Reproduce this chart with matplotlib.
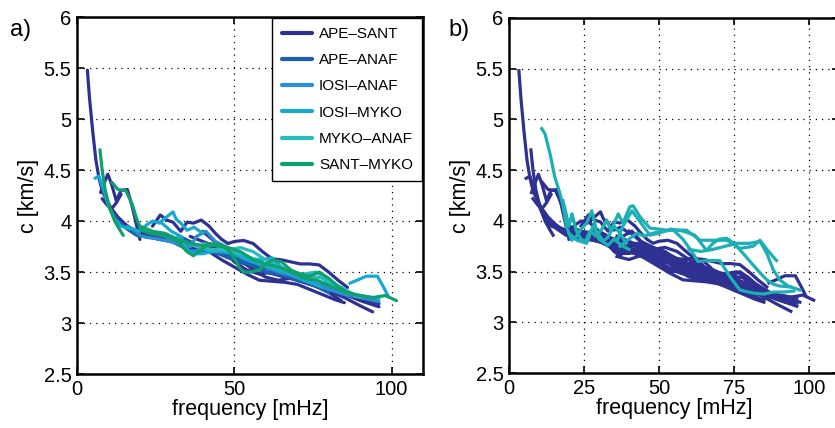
import matplotlib
matplotlib.use("Agg")
import matplotlib.pyplot as plt

plt.rcParams['font.family'] = ['Liberation Sans', 'DejaVu Sans']

# pair names and colours of panel a
pairs = ['APE\u2013SANT', 'APE\u2013ANAF', 'IOSI\u2013ANAF', 'IOSI\u2013MYKO', 'MYKO\u2013ANAF', 'SANT\u2013MYKO']
pair_colors = ['#2e3192', '#1c5fae', '#2a8fd0', '#17a9d1', '#28bbbd', '#0fa070']

# dispersion curves of panel a: (pair index, frequency [mHz], c [km/s])
curves_a = [
    (0, [3.3, 4, 5, 6, 7, 8, 9.5, 11, 13, 15, 17, 19, 21, 24, 27, 30, 33, 36, 40, 44, 48, 52, 56, 60, 64, 68, 72, 76, 80, 84],
        [5.48, 5.2, 4.88, 4.6, 4.42, 4.3, 4.2, 4.12, 4.04, 3.98, 3.93, 3.9, 3.87, 3.86, 3.84, 3.82, 3.8, 3.77, 3.76, 3.75, 3.72, 3.66, 3.6, 3.55, 3.5, 3.47, 3.42, 3.36, 3.3, 3.22]),
    (0, [7.5, 9, 9.8, 11, 12.5, 14, 16, 17.5, 19, 20],
        [4.28, 4.4, 4.46, 4.36, 4.2, 4.3, 4.31, 4.15, 3.95, 3.82]),
    (0, [8, 9.5, 11, 12.5, 14],
        [4.22, 4.16, 4.12, 4.18, 4.26]),
    (0, [24, 26.5, 28.5, 30.5, 33, 35, 37, 39.5, 42, 44, 46, 48, 50, 53, 56, 59, 62, 65, 68, 71, 74, 77, 80, 83, 86],
        [3.95, 4.06, 4.01, 3.99, 3.9, 3.99, 3.98, 4.01, 3.95, 3.88, 3.82, 3.78, 3.8, 3.81, 3.78, 3.7, 3.63, 3.62, 3.6, 3.58, 3.58, 3.57, 3.5, 3.42, 3.35]),
    (0, [30, 34, 38, 42, 46, 50, 54, 58, 62, 66, 70, 74, 78, 82, 85],
        [3.82, 3.75, 3.72, 3.7, 3.62, 3.55, 3.48, 3.42, 3.41, 3.4, 3.38, 3.33, 3.28, 3.23, 3.2]),
    (0, [20, 25, 30, 35, 40, 45, 50, 55, 60, 65, 70, 75, 80, 85, 90, 94],
        [3.9, 3.86, 3.8, 3.78, 3.72, 3.68, 3.62, 3.56, 3.5, 3.46, 3.42, 3.38, 3.32, 3.25, 3.17, 3.11]),
    (0, [36, 40, 44, 48, 52, 56, 60, 64, 68, 72, 76, 80, 85, 90, 96],
        [3.85, 3.8, 3.75, 3.7, 3.62, 3.52, 3.45, 3.42, 3.44, 3.42, 3.38, 3.33, 3.28, 3.24, 3.19]),
    (0, [40, 43, 46, 50, 54, 58, 62, 66, 70, 74, 78, 82, 86, 91, 96],
        [3.9, 3.82, 3.74, 3.6, 3.52, 3.48, 3.5, 3.47, 3.42, 3.38, 3.34, 3.3, 3.27, 3.21, 3.16]),
    (1, [10, 13, 16, 19, 22, 26, 30, 34, 38, 42, 46, 50, 54, 58, 62, 66, 70, 74, 78, 82, 86],
        [4.15, 4.0, 3.92, 3.86, 3.85, 3.82, 3.8, 3.74, 3.7, 3.7, 3.68, 3.64, 3.6, 3.55, 3.52, 3.48, 3.44, 3.4, 3.36, 3.31, 3.27]),
    (1, [32, 36, 40, 44, 48, 52, 56, 60, 64, 68, 72, 76, 80],
        [3.86, 3.8, 3.72, 3.7, 3.64, 3.6, 3.56, 3.5, 3.48, 3.44, 3.4, 3.36, 3.3]),
    (2, [16, 18, 20, 22, 25, 28, 32, 36, 40, 44, 48, 52, 56, 60, 64, 68, 72, 76, 80, 85, 90, 95],
        [3.95, 3.92, 3.86, 3.84, 3.83, 3.81, 3.78, 3.7, 3.72, 3.72, 3.7, 3.65, 3.6, 3.55, 3.5, 3.47, 3.42, 3.38, 3.33, 3.28, 3.25, 3.22]),
    (2, [24, 28, 32, 36, 38, 41, 44, 48, 52, 56, 60, 64, 68, 72, 76, 80, 84, 88, 92, 96],
        [3.88, 3.85, 3.78, 3.75, 3.85, 3.9, 3.8, 3.74, 3.68, 3.62, 3.58, 3.55, 3.5, 3.46, 3.42, 3.36, 3.3, 3.27, 3.24, 3.21]),
    (3, [5.7, 7, 8.5, 10, 12, 14, 16, 18, 20, 22, 24, 27, 30, 33, 35, 37, 40, 43, 46, 50, 54, 58, 62, 66, 70, 74, 78],
        [4.42, 4.44, 4.3, 4.15, 4.02, 3.95, 3.93, 3.92, 3.9, 3.96, 4.0, 3.98, 3.9, 3.85, 3.72, 3.68, 3.68, 3.7, 3.7, 3.68, 3.62, 3.58, 3.54, 3.5, 3.45, 3.4, 3.35]),
    (3, [26, 28.5, 30.5, 31.5, 33, 35, 37.2, 40],
        [3.98, 4.04, 4.09, 4.02, 3.98, 3.91, 3.94, 3.88]),
    (3, [86.7, 89, 92, 95.5, 97.5, 99],
        [3.39, 3.42, 3.46, 3.46, 3.35, 3.26]),
    (3, [48, 52, 56, 59, 62, 65, 68, 72, 76, 80, 84, 88, 92, 96],
        [3.72, 3.67, 3.63, 3.62, 3.64, 3.55, 3.5, 3.45, 3.42, 3.38, 3.32, 3.28, 3.26, 3.24]),
    (4, [30, 34, 38, 42, 46, 50, 54, 58, 62, 66, 70, 74, 78, 82, 86, 90],
        [3.85, 3.8, 3.75, 3.72, 3.72, 3.7, 3.66, 3.6, 3.56, 3.52, 3.48, 3.46, 3.44, 3.36, 3.3, 3.26]),
    (4, [40, 44, 48, 52, 56, 60, 64, 68, 72, 76, 80, 84, 88],
        [3.78, 3.76, 3.72, 3.74, 3.7, 3.62, 3.56, 3.5, 3.48, 3.5, 3.42, 3.35, 3.28]),
    (5, [7.3, 8, 9, 10.5, 12, 13.5, 14.7],
        [4.70, 4.5, 4.3, 4.12, 4.0, 3.92, 3.86]),
    (5, [11.1, 13, 15.5, 17.5, 19, 20.5, 23, 26, 29, 32, 35, 37, 39.5, 42, 45.5, 48, 50, 51.5, 53, 55, 58, 60, 62.5, 65, 68, 71, 74, 77, 80, 83, 86, 90, 94, 98, 101.6],
        [4.38, 4.31, 4.30, 4.17, 4.02, 3.91, 3.88, 3.87, 3.85, 3.8, 3.7, 3.66, 3.72, 3.78, 3.77, 3.72, 3.64, 3.55, 3.5, 3.5, 3.52, 3.58, 3.62, 3.6, 3.52, 3.48, 3.46, 3.5, 3.44, 3.36, 3.3, 3.27, 3.25, 3.27, 3.22]),
    (5, [20, 24, 28, 32, 36, 40, 44, 48, 52, 56, 60, 64, 68, 72, 76, 80, 84, 88],
        [3.95, 3.9, 3.88, 3.82, 3.78, 3.76, 3.76, 3.74, 3.7, 3.62, 3.58, 3.55, 3.5, 3.44, 3.42, 3.37, 3.32, 3.28]),
]

# extra curves of panel b (dark blue)
extra_b = [
    ([25, 30, 35, 40, 45, 50, 55, 60, 65, 70, 75, 80, 85, 90, 95],
     [3.88, 3.8, 3.74, 3.7, 3.64, 3.58, 3.52, 3.48, 3.44, 3.4, 3.36, 3.32, 3.27, 3.22, 3.18]),
    ([28, 33, 38, 43, 48, 53, 58, 63, 68, 73, 78, 83, 88, 93, 97],
     [3.9, 3.84, 3.8, 3.74, 3.68, 3.62, 3.55, 3.5, 3.48, 3.44, 3.38, 3.32, 3.28, 3.24, 3.2]),
    ([36, 40, 44, 48, 52, 56, 60, 64, 68, 72, 76, 80, 85],
     [3.65, 3.62, 3.66, 3.62, 3.56, 3.5, 3.46, 3.44, 3.4, 3.36, 3.32, 3.27, 3.22]),
]

# teal curves of panel b
teal_b = [
    ([10.9, 12, 13.7, 15.3, 17, 18.1, 19.2, 20.9, 22.5, 24, 25.9, 27.6, 29.2, 31.4, 33, 35, 37, 39],
     [4.91, 4.86, 4.66, 4.43, 4.27, 4.14, 3.94, 3.81, 3.85, 3.92, 3.98, 4.1, 3.9, 3.8, 3.84, 3.95, 3.88, 3.78]),
    ([18, 20, 21, 22.5, 24, 25.5, 27, 29, 31, 32.6, 34, 36.4, 38, 40.3, 41.4, 43.7, 47, 52.6, 59.2, 63.7, 68, 72.6, 77, 81.4, 83.7, 86, 89.2],
     [4.2, 3.95, 4.07, 3.9, 3.82, 3.8, 3.9, 3.85, 3.92, 4.01, 3.9, 4.07, 3.98, 4.14, 4.15, 4.04, 3.93, 3.91, 3.91, 3.81, 3.81, 3.81, 3.73, 3.75, 3.81, 3.72, 3.61]),
    ([36, 38, 41, 44, 47, 50, 54, 58, 62, 65.9, 68, 70, 72.6, 75, 78.1, 81, 84, 86, 88, 90, 93.7],
     [3.8, 3.95, 4.1, 3.98, 3.86, 3.88, 3.92, 3.9, 3.86, 3.71, 3.78, 3.82, 3.83, 3.78, 3.68, 3.58, 3.48, 3.42, 3.38, 3.36, 3.35]),
    ([60, 64, 68, 72, 76, 80.3, 83.7, 86, 88.1, 90.3, 93, 97],
     [3.72, 3.7, 3.72, 3.75, 3.78, 3.78, 3.8, 3.68, 3.52, 3.42, 3.36, 3.32]),
    ([37, 40, 42.6, 45, 48.1, 51, 54.8, 58, 61.4, 63, 65.9, 70.3, 73.7, 77, 81.4, 85, 88.1, 92, 95],
     [3.75, 3.82, 3.88, 3.85, 3.88, 3.9, 3.91, 3.82, 3.68, 3.6, 3.61, 3.61, 3.45, 3.32, 3.29, 3.28, 3.3, 3.3, 3.31]),
    ([20, 22.6, 25.9, 28, 30, 33, 35, 38, 40],
     [3.88, 3.81, 3.78, 3.95, 3.82, 3.76, 3.82, 3.75, 3.72]),
]

dark_blue = '#2e3192'
teal = '#1cb0b6'

fig = plt.figure(figsize=(8.35, 4.28), dpi=100)
ax_a = fig.add_axes([0.0922, 0.126, 0.4144, 0.834])
ax_b = fig.add_axes([0.6096, 0.128, 0.395, 0.830])


def style_axes(ax, xticks):
    ax.set_xlim(0, 110)
    ax.set_ylim(2.5, 6)
    ax.set_xticks(xticks)
    ax.set_yticks([2.5, 3, 3.5, 4, 4.5, 5, 5.5, 6])
    ax.set_yticklabels(['2.5', '3', '3.5', '4', '4.5', '5', '5.5', '6'])
    ax.grid(True, color='black', linestyle=(0, (1, 4)), linewidth=0.9)
    ax.tick_params(direction='in', top=True, right=True, length=5, width=1.2,
                   labelsize=14.5, pad=4)
    for sp in ax.spines.values():
        sp.set_linewidth(1.8)
    ax.set_xlabel('frequency [mHz]', fontsize=15.5, labelpad=0)
    ax.set_ylabel('c [km/s]', fontsize=15.5, labelpad=3)


# panel a
drawn = set()
for k, f, c in curves_a:
    lab = pairs[k] if k not in drawn else None
    drawn.add(k)
    ax_a.plot(f, c, color=pair_colors[k], linewidth=2.3, label=lab, solid_capstyle='round')
style_axes(ax_a, [0, 50, 100])
handles, labels = ax_a.get_legend_handles_labels()
order = [labels.index(p) for p in pairs]
leg = ax_a.legend([handles[i] for i in order], [labels[i] for i in order],
                  loc='upper right', fontsize=11, handlelength=2.0, handletextpad=0.45,
                  labelspacing=0.8, borderpad=0.6, borderaxespad=0.05,
                  fancybox=False, edgecolor='black', framealpha=1)
leg.get_frame().set_linewidth(1.0)
for ln in leg.get_lines():
    ln.set_linewidth(3)
fig.text(0.012, 0.915, 'a)', fontsize=17)

# panel b
for k, f, c in curves_a:
    ax_b.plot(f, c, color=dark_blue, linewidth=2.3)
for f, c in extra_b:
    ax_b.plot(f, c, color=dark_blue, linewidth=2.3)
for f, c in teal_b:
    ax_b.plot(f, c, color=teal, linewidth=2.3)
style_axes(ax_b, [0, 25, 50, 75, 100])
fig.text(0.537, 0.915, 'b)', fontsize=17)

fig.savefig('out.png', dpi=100)
